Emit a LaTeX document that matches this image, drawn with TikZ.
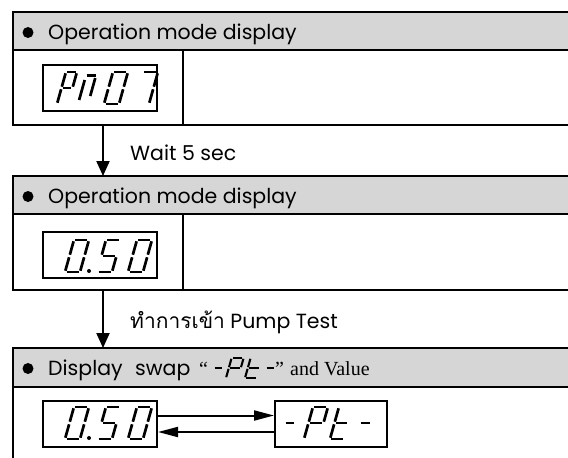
\documentclass[tikz,border=0pt]{standalone}
\usepackage{fontspec}
\setmainfont{Poppins}
\newfontfamily\thaifont[Script=Thai]{Loma}
\newfontfamily\seriffont{Liberation Serif}
\usetikzlibrary{arrows.meta}
\definecolor{headgray}{RGB}{214,214,214}

% seven-segment cell: unit box 1 wide, 2 high
\newcommand\lcdsega{\draw[segline] (0.1,2)--(0.9,2);}
\newcommand\lcdsegb{\draw[segline] (1,1.92)--(1,1.08);}
\newcommand\lcdsegc{\draw[segline] (1,0.92)--(1,0.08);}
\newcommand\lcdsegd{\draw[segline] (0.1,0)--(0.9,0);}
\newcommand\lcdsege{\draw[segline] (0,0.92)--(0,0.08);}
\newcommand\lcdsegf{\draw[segline] (0,1.92)--(0,1.08);}
\newcommand\lcdsegg{\draw[segline] (0.1,1)--(0.9,1);}
% #1 left x, #2 bottom y, #3 width, #4 height, #5 lit segments
\newcommand\lcddigit[5]{%
  \begin{scope}[shift={(#1,#2)}, x={(#3pt,0pt)}, y={({0.14*#4*1pt},{0.5*#4*1pt})}]
    \foreach \s in {#5}{\csname lcdseg\s\endcsname}
  \end{scope}}
% a whole "0.50" readout, bottom of digits at #1
\newcommand\readoutzerofifty[1]{%
  \lcddigit{65}{#1}{15}{32}{a,b,c,d,e,f}
  \fill (89,#1-1) circle (2pt);
  \lcddigit{97}{#1}{15}{32}{a,f,g,c,d}
  \lcddigit{128}{#1}{15}{32}{a,b,c,d,e,f}}

\begin{document}
\begin{tikzpicture}[x=1pt,y=-1pt,
  rule/.style={line width=2.6pt},
  segline/.style={line width=2.7pt},
  lcdbox/.style={draw, line width=2pt, fill=white, minimum width=114pt, minimum height=46pt, inner sep=0pt},
  headtxt/.style={anchor=base west, inner sep=0pt, font=\fontsize{20.5}{22}\selectfont},
  sertxt/.style={anchor=base west, inner sep=0pt, font=\seriffont\fontsize{20}{22}\selectfont},
  lbl/.style={anchor=base west, inner sep=0pt, font=\fontsize{20.5}{22}\selectfont},
  flow/.style={line width=2pt, -{Triangle[length=15pt,width=13pt]}},
  swapflow/.style={line width=2pt, -{Triangle[length=20pt,width=10pt]}}]
\useasboundingbox (0,0) rectangle (568,458);
\clip (0,0) rectangle (568,458);
\fill[white] (0,0) rectangle (568,458);

% ---- panel 1
\fill[headgray] (13,12) rectangle (580,50);
\draw[rule] (580,12) -- (13,12) -- (13,125) -- (580,125);
\draw[rule] (13,50) -- (580,50);
\draw[rule] (183,50) -- (183,125);
\fill (28,32.5) circle (5.5pt);
\node[headtxt] (h1) at (48,39) {Operation mode display};
\node[lcdbox] (d1) at (100,88) {};
\lcddigit{57}{104}{11}{32}{a,b,f,g,e}
\begin{scope}[shift={(78,104)}, x={(10pt,0pt)}, y={({0.14*32*1pt},{16pt})}]
  \draw[segline] (0.05,1.8) -- (0.95,1.8);
  \draw[segline] (0,1.5) -- (0,0.25);
  \draw[segline] (1,1.62) -- (1,0.5);
\end{scope}
\lcddigit{104}{104}{15}{32}{a,b,c,d,e,f}
\lcddigit{134}{104}{15}{32}{a,b,c}

% ---- arrow 1
\coordinate (a1s) at (103,125);
\coordinate (a1e) at (103,176);
\draw[flow] (a1s) -- (a1e);
\node[lbl] (wait) at (130,160) {Wait 5 sec};

% ---- panel 2
\fill[headgray] (13,176) rectangle (580,214);
\draw[rule] (580,176) -- (13,176) -- (13,290) -- (580,290);
\draw[rule] (13,214) -- (580,214);
\draw[rule] (183,214) -- (183,290);
\fill (28,196.5) circle (5.5pt);
\node[headtxt] (h2) at (48,203) {Operation mode display};
\node[lcdbox] (d2) at (100,255) {};
\readoutzerofifty{272}

% ---- arrow 2
\coordinate (a2s) at (103,290);
\coordinate (a2e) at (103,348);
\draw[flow] (a2s) -- (a2e);
\node[lbl] (enter) at (130,328) {{\thaifont\fontsize{21}{22}\selectfont ทำการเข้า} Pump Test};

% ---- panel 3
\fill[headgray] (13,348) rectangle (580,387);
\draw[rule] (580,348) -- (13,348) -- (13,470);
\draw[rule] (13,387) -- (580,387);
\fill (28,368.5) circle (5.5pt);
\node[headtxt] (h3a) at (48,375) {Display};
\node[headtxt] (h3b) at (135,375) {swap};
\node[sertxt] (q1) at (199,375) {“};
\begin{scope}[segline/.style={line width=2.1pt}]
  \lcddigit{211}{378}{9}{20}{g}
  \lcddigit{226}{378}{12}{20}{a,b,f,g,e}
  \lcddigit{245}{378}{12}{20}{d,e,f,g}
  \lcddigit{263}{378}{9}{20}{g}
\end{scope}
\node[sertxt] (q2) at (275,375) {”};
\node[sertxt] (h3c) at (290,375) {and Value};

\node[lcdbox] (d3) at (100,423.5) {};
\readoutzerofifty{439}
\node[lcdbox, minimum width=112pt] (d4) at (331,423.5) {};
\lcddigit{280}{439}{11}{32}{g}
\lcddigit{304}{439}{15}{32}{a,b,f,g,e}
\lcddigit{330}{439}{14}{32}{d,e,f,g}
\lcddigit{355}{439}{12}{32}{g}

\draw[swapflow] ([yshift=8pt]d3.east) -- ([yshift=8pt]d4.west);
\draw[swapflow] ([yshift=-8.5pt]d4.west) -- ([yshift=-8.5pt]d3.east);
\end{tikzpicture}
\end{document}
